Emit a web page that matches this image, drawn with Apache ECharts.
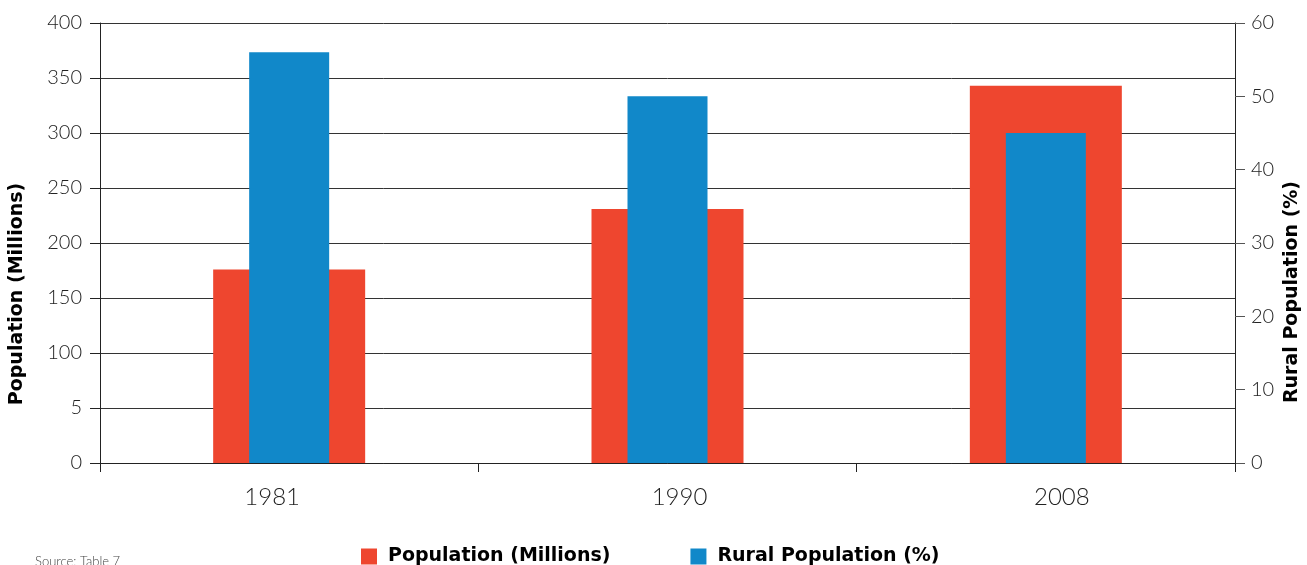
<!DOCTYPE html>
<html>
<head>
<meta charset="utf-8">
<script src="https://cdn.jsdelivr.net/npm/echarts@6/dist/echarts.min.js"></script>
<style>html,body{margin:0;padding:0;background:#fff}#c{width:1307px;height:565px}</style>
</head>
<body>
<div id="c"></div>
<script>
const categories = ['1981', '1990', '2008'];
const populationMillions = [176, 231, 343];
const ruralPercent = [56, 50, 45];
const leftTickLabels = ['0', '5', '100', '150', '200', '250', '300', '350', '400'];
const rightTickLabels = ['0', '10', '20', '30', '40', '50', '60'];

const numFont = 'Lato';
const boldFont = 'DejaVu Sans';
// per-label horizontal nudge styles (layout only)
const labelStyleKeys = ['a', 'b', 'c'];
const chart = echarts.init(document.getElementById('c'));
chart.setOption({
  animation: false,
  grid: { left: 100, right: 72, top: 23, bottom: 102 },
  legend: {
    left: 361, top: 547, padding: 0,
    itemWidth: 16, itemHeight: 16, itemGap: 80,
    icon: 'rect',
    textStyle: { fontFamily: boldFont, fontWeight: 'bold', fontSize: 19, color: '#000', padding: [0, 0, 0, 6] },
    data: ['Population (Millions)', 'Rural Population (%)']
  },
  xAxis: [{
    type: 'category', data: categories,
    axisLine: { lineStyle: { color: '#222', width: 1 } },
    axisTick: { show: true, length: 9, lineStyle: { color: '#222' } },
    axisLabel: {
      fontFamily: numFont, fontWeight: 300, fontSize: 24, color: '#222', margin: 22,
      formatter: (v, i) => '{' + labelStyleKeys[i] + '|' + v + '}',
      rich: {
        a: { fontFamily: numFont, fontWeight: 300, fontSize: 24, color: '#222', padding: [0, 34, 0, 0] },
        b: { fontFamily: numFont, fontWeight: 300, fontSize: 24, color: '#222', padding: [0, 0, 0, 24] },
        c: { fontFamily: numFont, fontWeight: 300, fontSize: 24, color: '#222', padding: [0, 0, 0, 32] }
      }
    }
  }, {
    type: 'category', data: categories, show: false
  }],
  yAxis: [{
    type: 'value', min: 0, max: 400, interval: 50,
    axisLine: { show: true, lineStyle: { color: '#222' } },
    axisTick: { show: true, length: 10, lineStyle: { color: '#222' } },
    axisLabel: {
      fontFamily: numFont, fontWeight: 300, fontSize: 20, color: '#222', margin: 18,
      formatter: (v) => leftTickLabels[Math.round(v / 50)]
    },
    splitLine: { show: true, lineStyle: { color: '#333', width: 1 } }
  }, {
    type: 'value', min: 0, max: 60, interval: 10, position: 'right',
    axisLine: { show: true, lineStyle: { color: '#222' } },
    axisTick: { show: true, length: 10, lineStyle: { color: '#555' } },
    axisLabel: {
      fontFamily: numFont, fontWeight: 300, fontSize: 20, color: '#222', margin: 16,
      formatter: (v) => rightTickLabels[Math.round(v / 10)]
    },
    splitLine: { show: false }
  }],
  series: [{
    name: 'Population (Millions)', type: 'bar',
    xAxisIndex: 0, yAxisIndex: 0,
    barWidth: 152, data: populationMillions,
    itemStyle: { color: '#EE462F' }
  }, {
    name: 'Rural Population (%)', type: 'bar',
    xAxisIndex: 1, yAxisIndex: 1,
    barWidth: 80, data: ruralPercent,
    itemStyle: { color: '#1188C9' }
  }],
  graphic: [{
    type: 'text', x: 17, y: 294, rotation: Math.PI / 2,
    style: { text: 'Population (Millions)', fontFamily: boldFont, fontWeight: 'bold', fontSize: 19, fill: '#000', align: 'center', verticalAlign: 'middle' }
  }, {
    type: 'text', x: 1292, y: 292, rotation: Math.PI / 2,
    style: { text: 'Rural Population (%)', fontFamily: boldFont, fontWeight: 'bold', fontSize: 19, fill: '#000', align: 'center', verticalAlign: 'middle' }
  }, {
    type: 'text', x: 35, y: 555,
    style: { text: 'Source: Table 7', fontFamily: numFont, fontWeight: 300, fontSize: 13, fill: '#444' }
  }]
});
</script>
</body>
</html>
